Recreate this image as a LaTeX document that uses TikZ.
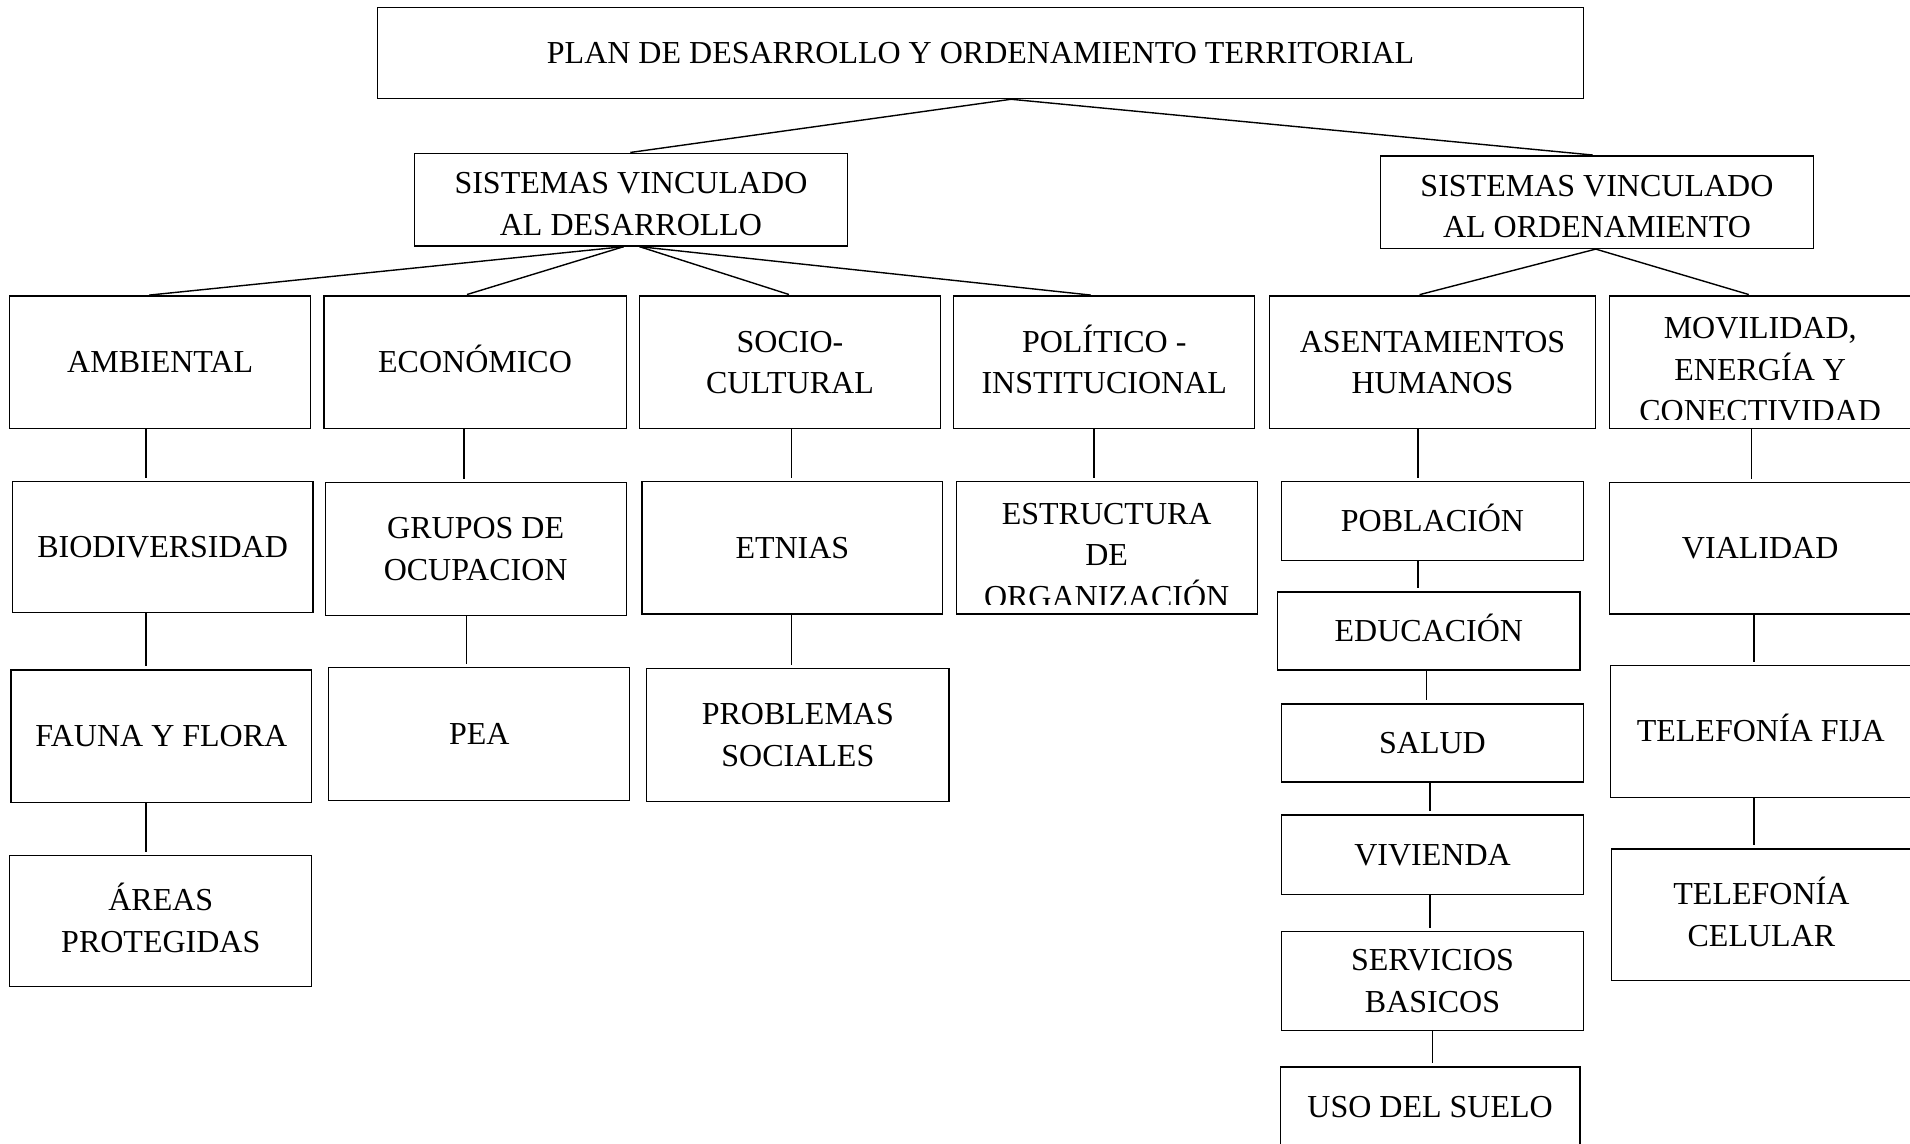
\documentclass[tikz,border=0pt]{standalone}
\usepackage{fontspec}
\setmainfont{Liberation Serif}
\newcommand\ux{0.609pt}
\tikzset{
  box/.style={draw=black,line width=0.6pt,inner sep=0pt,align=center,
    text height=10.5pt,text depth=0pt},
  two/.style={text height=31.3pt},
  big/.style={box,minimum width=247*\ux,minimum height=109*\ux},
  small/.style={box,minimum width=248*\ux,minimum height=65*\ux},
  link/.style={line width=0.7pt,shorten >=1.5pt},
  % three lines that run out of the box bottom, cut off
  cuttext/.style n args={3}{path picture={
      \clip (path picture bounding box.north west) rectangle ([yshift=#1*\ux]path picture bounding box.south east);
      \node[align=center,inner sep=0pt,text height=52.1pt,text depth=0pt]
        at ([yshift=#2*\ux]path picture bounding box.center) {#3};}}
}
\begin{document}
\fontsize{16}{20.8}\selectfont
\begin{tikzpicture}[x=\ux,y=-\ux]
\useasboundingbox (0,0) rectangle (1568,939);

% level 1 and 2
\node[box,minimum width=990*\ux,minimum height=75*\ux] (plan) at (805,43.5) {PLAN DE DESARROLLO Y ORDENAMIENTO TERRITORIAL};
\node[box,text height=35.5pt,minimum width=356*\ux,minimum height=76*\ux] (sdes) at (518,164) {SISTEMAS VINCULADO\\AL DESARROLLO};
\node[box,text height=35.5pt,minimum width=356*\ux,minimum height=76*\ux] (sord) at (1311,166) {SISTEMAS VINCULADO\\AL ORDENAMIENTO};

% level 3
\node[big] (amb) at (131.5,297.5) {AMBIENTAL};
\node[big,minimum width=248*\ux] (eco) at (390,297.5) {ECONÓMICO};
\node[big,two] (soc) at (648.5,297.5) {SOCIO-\\CULTURAL};
\node[big,two] (pol) at (906.5,297.5) {POLÍTICO -\\INSTITUCIONAL};
\node[big,two,minimum width=268*\ux] (ase) at (1176,297.5) {ASENTAMIENTOS\\HUMANOS};
\node[big,minimum width=248*\ux,cuttext={7.7}{-6}{MOVILIDAD,\\ENERGÍA Y\\CONECTIVIDAD}] (mov) at (1445,297.5) {};

% ambiental
\node[big,minimum height=108*\ux] (bio) at (133.5,449) {BIODIVERSIDAD};
\node[big] (fau) at (132.5,604.5) {FAUNA Y FLORA};
\node[big,two,minimum width=248*\ux,minimum height=108*\ux] (are) at (132,756) {ÁREAS\\PROTEGIDAS};
% economico
\node[big,two] (gru) at (390.5,450.5) {GRUPOS DE\\OCUPACION};
\node[big] (pea) at (393.5,602.5) {PEA};
% socio-cultural
\node[big] (etn) at (650.5,449.5) {ETNIAS};
\node[big,two,minimum width=248*\ux] (pro) at (655,603.5) {PROBLEMAS\\SOCIALES};
% politico
\node[big,minimum height=108.5*\ux,cuttext={7.5}{-6}{ESTRUCTURA\\DE\\ORGANIZACIÓN}] (est) at (908.5,449.75) {};
% asentamientos
\node[small] (pob) at (1176,427.5) {POBLACIÓN};
\node[small,minimum height=64*\ux] (edu) at (1173,518) {EDUCACIÓN};
\node[small,minimum height=64*\ux] (sal) at (1176,610) {SALUD};
\node[small] (viv) at (1176,701.5) {VIVIENDA};
\node[small,two,minimum height=81*\ux] (ser) at (1176,805.5) {SERVICIOS\\BASICOS};
\node[small,minimum width=246*\ux] (uso) at (1174,908.5) {USO DEL SUELO};
% movilidad
\node[big,minimum width=248*\ux,minimum height=108*\ux] (via) at (1445,450) {VIALIDAD};
\node[big] (tfi) at (1445.5,600.5) {TELEFONÍA FIJA};
\node[big,two,minimum width=246*\ux,minimum height=108*\ux] (tce) at (1446,751) {TELEFONÍA\\CELULAR};

% connectors
\draw[link] (plan.south -| 830,0) -- (sdes.north -| 515,0);
\draw[link] (plan.south -| 830,0) -- (sord.north -| 1310,0);

\draw[link] (sdes.south -| 512,0) -- (amb.north -| 120,0);
\draw[link] (sdes.south -| 512,0) -- (eco.north -| 381,0);
\draw[link] (sdes.south -| 525,0) -- (soc.north -| 650,0);
\draw[link] (sdes.south -| 525,0) -- (pol.north -| 898,0);
\draw[link] (sord.south -| 1310,0) -- (ase.north -| 1163,0);
\draw[link] (sord.south -| 1310,0) -- (mov.north -| 1438,0);

\draw[link] (amb.south -| 120,0) -- (bio.north -| 120,0);
\draw[link] (bio.south -| 120,0) -- (fau.north -| 120,0);
\draw[link] (fau.south -| 120,0) -- (are.north -| 120,0);

\draw[link] (eco.south -| 381,0) -- (gru.north -| 381,0);
\draw[link] (gru.south -| 383,0) -- (pea.north -| 383,0);

\draw[link] (soc.south -| 650,0) -- (etn.north -| 650,0);
\draw[link] (etn.south -| 650,0) -- (pro.north -| 650,0);

\draw[link] (pol.south -| 898,0) -- (est.north -| 898,0);

\draw[link] (ase.south -| 1164,0) -- (pob.north -| 1164,0);
\draw[link] (pob.south -| 1164,0) -- (edu.north -| 1164,0);
\draw[link] (edu.south -| 1171,0) -- (sal.north -| 1171,0);
\draw[link] (sal.south -| 1174,0) -- (viv.north -| 1174,0);
\draw[link] (viv.south -| 1174,0) -- (ser.north -| 1174,0);
\draw[link] (ser.south -| 1176,0) -- (uso.north -| 1176,0);

\draw[link] (mov.south -| 1438,0) -- (via.north -| 1438,0);
\draw[link] (via.south -| 1440,0) -- (tfi.north -| 1440,0);
\draw[link] (tfi.south -| 1440,0) -- (tce.north -| 1440,0);
\end{tikzpicture}
\end{document}
